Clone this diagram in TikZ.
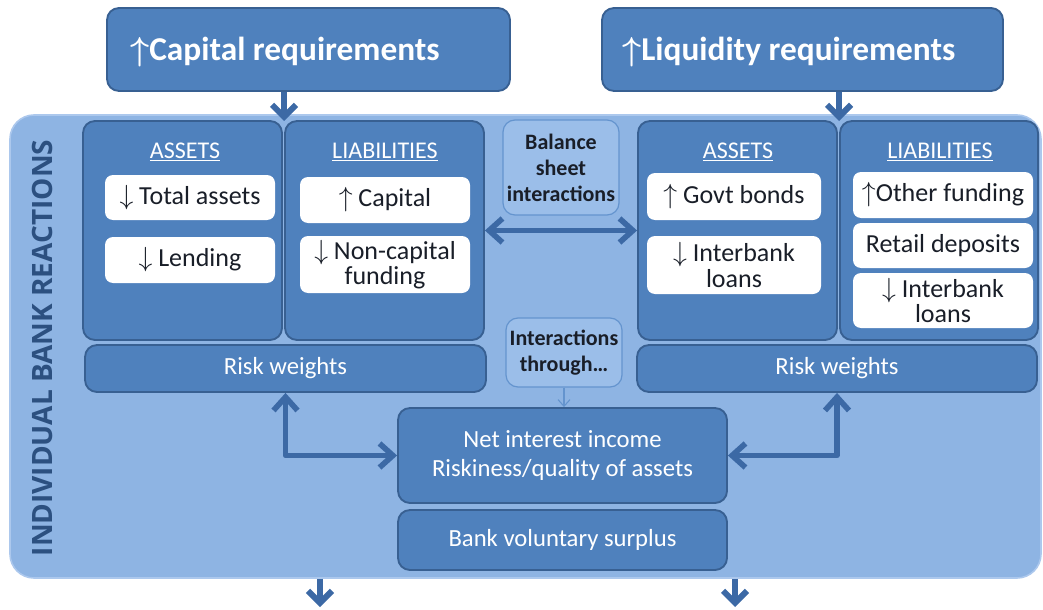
\documentclass[tikz,border=0pt]{standalone}
\usepackage{fontspec}
\setmainfont{Carlito}
\newfontfamily\sidefont{Open Sans}
\usetikzlibrary{arrows.meta,fit}
\definecolor{boxfill}{RGB}{79,129,189}
\definecolor{boxline}{RGB}{56,96,146}
\definecolor{panel}{RGB}{142,180,227}
\definecolor{panelrim}{RGB}{172,200,237}
\definecolor{chip}{RGB}{155,190,233}
\definecolor{chipline}{RGB}{100,148,206}
\definecolor{arr}{RGB}{60,105,165}
\definecolor{sidetxt}{RGB}{44,80,128}
\definecolor{ink}{RGB}{25,30,40}
\newcommand{\arrUp}{$\uparrow$}
\newcommand{\arrDn}{$\downarrow$}
\newcommand{\arrUpB}{{\boldmath$\uparrow$}}
\newcommand{\fsz}[2]{\fontsize{#1}{#2}\selectfont}
\tikzset{
  every picture/.style={x=0.75pt, y=-0.75pt, line join=round},
  % Flächen
  panelbox/.style={fill=panel, draw=panelrim, line width=1.2pt, rounded corners=18pt, inner sep=0pt},
  bigbox/.style={fill=boxfill, draw=boxline, line width=1.4pt, rounded corners=9pt, inner sep=0pt},
  itembox/.style={fill=white, rounded corners=6pt, inner sep=0pt},
  chipbox/.style={fill=chip, draw=chipline, line width=0.9pt, rounded corners=9pt, inner sep=0pt},
  % Schrift
  titletxt/.style={text=white, font=\bfseries\fsz{25}{30}, inner sep=0pt},
  headtxt/.style={text=white, font=\fsz{18}{21}, inner sep=0pt},
  itemtxt/.style={text=ink, align=center, inner sep=0pt, font=\fsz{19.5}{19}},
  chiptxt/.style={text=ink, align=center, inner sep=0pt, font=\bfseries\fsz{16.5}{19.5}},
  bodytxt/.style={text=white, align=center, inner sep=0pt, font=\fsz{18.5}{21.75}},
  sidelbl/.style={text=sidetxt, font=\sidefont\bfseries\fsz{21}{24}, inner sep=0pt},
  % Pfeile
  flow/.style={arr, line width=4.5pt, -{Straight Barb[length=9pt,width=18pt]}},
  twoway/.style={arr, line width=4.2pt, {Straight Barb[length=10pt,width=18pt]}-{Straight Barb[length=10pt,width=18pt]}},
  hint/.style={chipline, line width=0.8pt, -{Straight Barb[length=5pt,width=9pt]}},
}
\begin{document}
\begin{tikzpicture}
  \useasboundingbox (0,0) rectangle (1043,610);
  % Rahmen: Reaktionen der einzelnen Bank
  \node[panelbox, fit={(10,115)(1041,578)}] (panel) {};
  \node[sidelbl, rotate=90] (side) at (42,348) {INDIVIDUAL BANK REACTIONS};
  % Anforderungen
  \node[bigbox, fit={(107,8)(510,91)}] (capreq) {};
  \node[titletxt, anchor=west] (captxt) at (130,52) {\arrUpB Capital requirements};
  \node[bigbox, fit={(602,8)(1003,91)}] (liqreq) {};
  \node[titletxt, anchor=west] (liqtxt) at (622,52) {\arrUpB Liquidity requirements};
  % Bilanz links
  \node[bigbox, fit={(83,121)(282,340)}] (assetsL) {};
  \node[bigbox, fit={(285,121)(484,340)}] (liabL) {};
  \node[headtxt] (assetsLh) at (185,152) {\underline{ASSETS}};
  \node[headtxt] (liabLh) at (385,152) {\underline{LIABILITIES}};
  \node[itembox, fit={(105,175)(275,220)}, label={[itemtxt]center:\arrDn{} Total assets}] (totass) {};
  \node[itembox, fit={(105,237)(275,283)}, label={[itemtxt]center:\arrDn{} Lending}] (lend) {};
  \node[itembox, fit={(300,177)(470,223)}, label={[itemtxt]center:\arrUp{} Capital}] (capital) {};
  \node[itembox, fit={(300,236)(470,293)}, label={[itemtxt]center:{\arrDn{} Non-capital\\funding}}] (noncap) {};
  % Bilanz rechts
  \node[bigbox, fit={(638,121)(837,340)}] (assetsR) {};
  \node[bigbox, fit={(840,121)(1038,340)}] (liabR) {};
  \node[headtxt] (assetsRh) at (738,152) {\underline{ASSETS}};
  \node[headtxt] (liabRh) at (940,152) {\underline{LIABILITIES}};
  \node[itembox, fit={(647,173)(821,220)}, label={[itemtxt]center:\arrUp{} Govt bonds}] (bonds) {};
  \node[itembox, fit={(647,236)(821,294)}, label={[itemtxt]center:{\arrDn{} Interbank\\loans}}] (ibloanA) {};
  \node[itembox, fit={(853,172)(1033,218)}, label={[itemtxt]center:\arrUp Other funding}] (otherfund) {};
  \node[itembox, fit={(853,223)(1033,268)}, label={[itemtxt]center:Retail deposits}] (retail) {};
  \node[itembox, fit={(853,273)(1033,328)}, label={[itemtxt]center:{\arrDn{} Interbank\\loans}}] (ibloanL) {};
  % Risikogewichte
  \node[bigbox, fit={(85,345)(486,392)}, label={[bodytxt]center:Risk weights}] (riskL) {};
  \node[bigbox, fit={(637,345)(1037,392)}, label={[bodytxt]center:Risk weights}] (riskR) {};
  % Wechselwirkungen
  \node[chipbox, fit={(503,120)(619,215)}, label={[chiptxt]center:{Balance\\sheet\\interactions}}] (bsint) {};
  \node[chipbox, fit={(506,318)(622,387)}, label={[chiptxt]center:{Interactions\\through…}}] (through) {};
  \node[bigbox, fit={(398,408)(727,503)}, label={[bodytxt]center:{Net interest income\\Riskiness/quality of assets}}] (nii) {};
  \node[bigbox, fit={(398,510)(727,570)}, label={[bodytxt]center:Bank voluntary surplus}] (surplus) {};
  % Pfeile
  \coordinate (capjoin) at (284,121);
  \coordinate (liqjoin) at (839,121);
  \draw[flow] (capjoin |- capreq.south) -- (capjoin);
  \draw[flow] (liqjoin |- liqreq.south) -- (liqjoin);
  \draw[twoway] (liabL.east) -- (assetsR.west);
  \draw[hint] (through.south) -- (through.south |- nii.north);
  \draw[twoway] (riskL.south) |- (nii.west);
  \draw[twoway] (riskR.south) |- (nii.east);
  \coordinate (outL) at (320,607);
  \coordinate (outR) at (735,607);
  \draw[flow] (outL |- panel.south) -- (outL);
  \draw[flow] (outR |- panel.south) -- (outR);
\end{tikzpicture}
\end{document}
